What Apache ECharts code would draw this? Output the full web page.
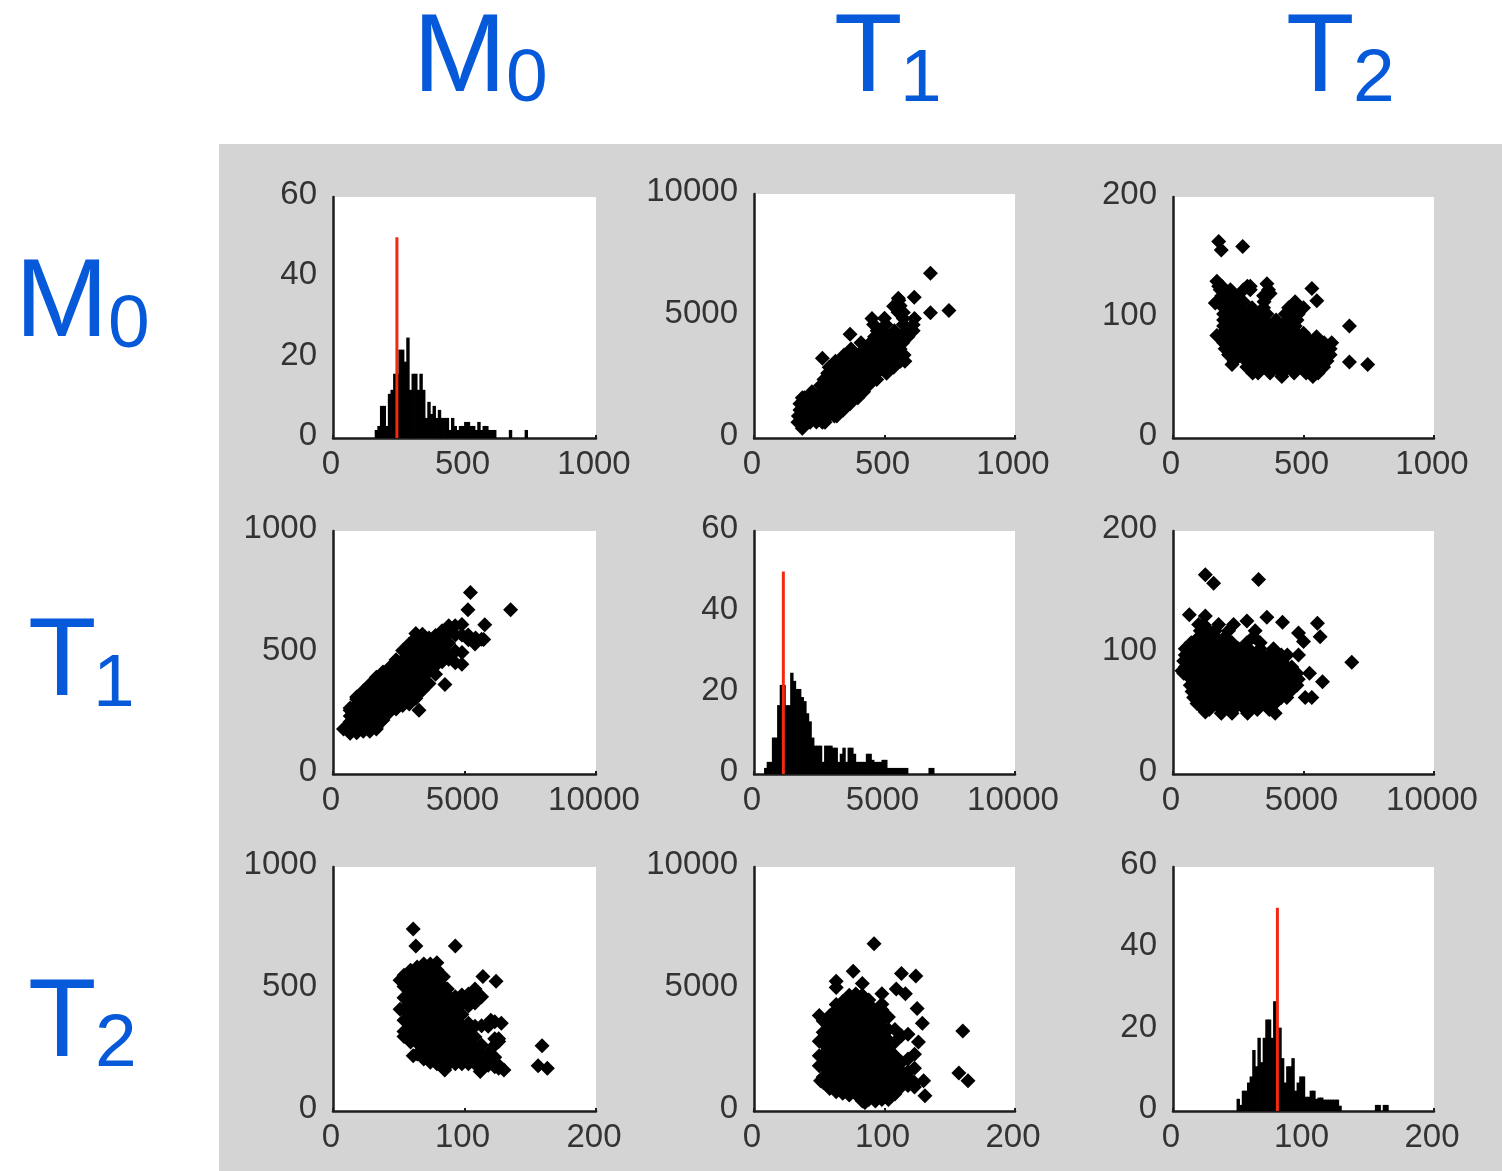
<!DOCTYPE html>
<html><head><meta charset="utf-8">
<style>html,body{margin:0;padding:0;background:#fff}#c{width:1502px;height:1171px}</style>
<script src="https://cdn.jsdelivr.net/npm/echarts@6/dist/echarts.min.js"></script>
</head><body><div id="c"></div>
<script>
// Histograms: [bin centre, count]
const m0Hist=[[165,2],[175,3],[185,8],[195,8],[205,3],[215,11],[225,12],[235,16],[245,16],[255,22],[265,22],[275,19],[285,25],[295,12],[305,16],[315,16],[325,12],[335,16],[345,12],[355,5],[365,9],[375,6],[385,8],[395,5],[405,7],[415,5],[425,5],[435,5],[445,2],[455,5],[465,3],[475,2],[485,3],[495,3],[505,4],[515,4],[525,3],[535,3],[545,2],[555,4],[565,2],[575,3],[585,3],[595,2],[605,2],[615,2],[675,2],[735,2]];
const t1Hist=[[450,1.5],[550,3],[650,3],[750,9],[850,9],[950,17],[1050,22],[1150,22],[1250,17],[1350,17],[1450,25],[1550,23],[1650,21],[1750,21],[1850,19],[1950,18],[2050,15],[2150,13],[2250,9],[2350,7],[2450,7],[2550,7],[2650,3],[2750,7],[2850,7],[2950,7],[3050,6.5],[3150,6.5],[3250,3],[3350,5],[3450,6.5],[3550,3],[3650,6.5],[3750,6.5],[3850,5],[3950,3],[4050,3],[4150,3],[4250,3],[4350,5],[4450,5],[4550,3.5],[4650,3],[4750,3],[4850,3],[4950,3.5],[5050,3.5],[5150,1.5],[5250,1.5],[5350,1.5],[5450,1.5],[5550,1.5],[5650,1.5],[5750,1.5],[5850,1.5],[6750,1.5],[6850,1.5]];
const t2Hist=[[50,3],[52,1.5],[54,5],[56,5],[58,7],[60,8.5],[62,15],[64,11],[66,18],[68,12],[70,18],[72,22.5],[74,22.5],[76,18],[78,27],[80,20],[82,20.5],[84,13],[86,7],[88,11],[90,11],[92,13],[94,5],[96,7],[98,8.5],[100,8.5],[102,3.5],[104,3.5],[106,5],[108,5],[110,3],[112,3.3],[114,3.3],[116,2.8],[118,2.8],[120,2.8],[122,2.8],[124,2.8],[126,2.8],[128,1.3],[156,1.5],[158,1.5],[162,1.5],[164,1.5]];
const m0Marker=243, t1Marker=1124, t2Marker=80, markerTop=50;

// Paired measurements
const m0t1=[[185,400],[168,650],[193,645],[215,650],[239,655],[262,650],[272,650],[170,900],[216,895],[262,905],[285,900],[308,900],[317,900],[176,1150],[193,1155],[215,1150],[239,1145],[285,1150],[331,1155],[342,1150],[176,1400],[216,1405],[262,1395],[308,1400],[354,1405],[368,1400],[185,1650],[193,1650],[239,1655],[285,1645],[331,1650],[377,1655],[398,1650],[222,1900],[262,1905],[308,1895],[354,1900],[400,1905],[420,1900],[255,2150],[285,2145],[331,2155],[377,2150],[423,2145],[438,2150],[268,2400],[308,2405],[354,2395],[400,2400],[446,2405],[470,2400],[282,2650],[331,2645],[377,2655],[423,2650],[469,2645],[508,2650],[288,2900],[308,2905],[354,2895],[400,2900],[446,2905],[492,2895],[535,2900],[262,3270],[312,3150],[331,3155],[377,3145],[423,3150],[469,3155],[515,3145],[561,3150],[578,3150],[345,3400],[354,3405],[400,3395],[446,3400],[492,3405],[538,3395],[575,3400],[372,3650],[423,3655],[469,3645],[515,3650],[560,3650],[410,3900],[446,3905],[492,3895],[538,3900],[570,3900],[368,4256],[462,4150],[515,4155],[561,4145],[590,4150],[472,4400],[492,4405],[538,4395],[584,4400],[610,4400],[458,4650],[505,4655],[572,4650],[610,4645],[452,4900],[500,4905],[572,4900],[615,4900],[552,5150],[572,5140],[535,5400],[560,5420],[555,5650],[553,5730],[614,5770],[676,5130],[747,5225],[676,6753]];
const m0t2=[[175,163],[185,156],[267,159],[168,130],[175,126],[187,126],[285,126],[296,126],[360,128],[181,123],[220,123],[270,123],[296,123],[366,123],[532,124],[187,118],[211,118],[238,118],[347,118],[372,120],[162,112],[175,113],[194,113],[234,113],[270,113],[349,113],[468,113],[551,114],[194,108],[211,108],[257,108],[303,108],[347,108],[443,108],[487,108],[500,108],[194,103],[234,103],[280,103],[326,103],[360,103],[430,103],[464,103],[480,103],[194,98],[211,98],[257,98],[303,98],[349,98],[395,98],[441,98],[475,98],[194,93],[234,93],[280,93],[326,93],[372,93],[420,93],[445,93],[468,93],[676,93],[194,88],[211,88],[257,88],[303,88],[349,88],[395,88],[420,88],[445,88],[470,88],[500,87],[168,85],[188,84],[234,84],[280,84],[326,84],[372,84],[418,84],[464,84],[510,84],[550,84],[194,79],[211,79],[257,79],[303,79],[349,79],[395,79],[441,79],[487,79],[533,79],[579,79],[608,79],[200,74],[234,74],[280,74],[326,74],[372,74],[418,74],[464,74],[510,74],[556,74],[602,74],[213,69],[257,69],[303,69],[349,69],[395,69],[441,69],[487,69],[533,69],[579,69],[602,69],[234,64],[280,64],[326,64],[372,64],[418,64],[464,64],[510,64],[556,64],[590,64],[676,63],[746,61],[226,61],[283,59],[303,59],[349,59],[395,59],[441,59],[487,59],[533,59],[577,59],[305,54],[326,54],[372,54],[418,54],[464,54],[510,54],[556,54],[417,51],[536,51]];
const t1t2=[[1237,164],[1556,157],[3278,160],[625,131],[1237,130],[3597,129],[4196,125],[2832,126],[5535,124],[5638,113],[4809,116],[5000,109],[4809,98],[6850,92],[5230,83],[5727,76],[5319,63],[5064,63],[982,123],[1173,123],[1747,123],[2321,123],[1046,118],[1390,118],[1620,118],[2130,118],[3150,118],[1000,113],[1160,113],[1620,113],[2000,113],[3087,113],[700,108],[1160,108],[1390,108],[1620,108],[1850,108],[2080,108],[2260,108],[2830,108],[3340,108],[470,103],[930,103],[1390,103],[1850,103],[2310,103],[2510,103],[2900,103],[3340,103],[3850,103],[470,98],[700,98],[930,98],[1160,98],[1390,98],[1620,98],[1850,98],[2080,98],[2310,98],[2540,98],[2770,98],[3020,98],[3230,98],[3460,98],[3690,98],[3920,98],[4150,98],[4380,98],[410,93],[930,93],[1390,93],[1850,93],[2310,93],[2770,93],[3210,93],[3690,93],[4110,93],[470,88],[700,88],[1160,88],[1620,88],[2080,88],[2540,88],[3000,88],[3460,88],[3920,88],[4380,88],[4550,88],[344,85],[410,83],[470,83],[930,83],[1390,83],[1850,83],[2310,83],[2770,83],[3230,83],[3690,83],[4150,83],[4610,83],[4745,83],[700,78],[1160,78],[1620,78],[2080,78],[2540,78],[3000,78],[3460,78],[3920,78],[4380,78],[4800,78],[660,73],[930,73],[1390,73],[1850,73],[2310,73],[2770,73],[3230,73],[3690,73],[4150,73],[4610,73],[4745,73],[730,68],[1160,68],[1620,68],[2080,68],[2540,68],[3000,68],[3460,68],[3920,68],[4380,68],[4490,68],[790,63],[930,63],[1390,63],[1850,63],[2310,63],[2770,63],[3230,63],[3690,63],[4150,63],[4360,63],[920,58],[1160,58],[1620,58],[2080,58],[2540,58],[3000,58],[3460,58],[3900,58],[1170,53],[1390,53],[1850,53],[2310,53],[2770,53],[3230,53],[3690,53],[1237,51],[1850,50],[2260,50],[2857,50],[3916,50]];

const varMax=[1000,10000,200], varStep=[500,5000,100];
const histMax=60, histStep=20;
const titleText=[['M','0'],['T','1'],['T','2']];

const colLeft=[333,754,1173], colW=[263,261,261];
const rowBottom=[438,774,1111];
const rowTop=[[197,194,197],[531,531,531],[867,867,867]];
const flip=a=>a.map(p=>[p[1],p[0]]);
const cells=[
 [m0Hist,m0t1,m0t2],
 [flip(m0t1),t1Hist,t1t2],
 [flip(m0t2),flip(t1t2),t2Hist]];
const markers=[m0Marker,t1Marker,t2Marker];

const grids=[],xAxes=[],yAxes=[],series=[];
const lab={fontFamily:'"Liberation Sans",Arial,sans-serif',fontSize:33,color:'#333',formatter:v=>String(v)};
const line={show:true,onZero:false,lineStyle:{color:'#1c1c1c',width:2.5}};
for(let r=0;r<3;r++)for(let c=0;c<3;c++){
  const i=grids.length, isHist=r===c;
  const top=rowTop[r][c];
  grids.push({left:colLeft[c],top,width:colW[c],height:rowBottom[r]-top,show:true,backgroundColor:'#fff',borderWidth:0});
  xAxes.push({type:'value',gridIndex:i,min:0,max:varMax[r],interval:varStep[r],splitLine:{show:false},
    axisLine:line,axisTick:{show:true,inside:true,length:3,lineStyle:{color:'#1c1c1c',width:2}},
    axisLabel:{...lab,margin:10,padding:[0,4,0,0],showMinLabel:true,showMaxLabel:true,hideOverlap:false}});
  const yMax=isHist?histMax:varMax[c], yStep=isHist?histStep:varStep[c];
  yAxes.push({type:'value',gridIndex:i,min:0,max:yMax,interval:yStep,splitLine:{show:false},
    axisLine:line,axisTick:{show:false},
    axisLabel:{...lab,margin:16,verticalAlign:'bottom',lineHeight:4,showMinLabel:true,showMaxLabel:true,hideOverlap:false}});
  if(isHist){
    series.push({type:'bar',xAxisIndex:i,yAxisIndex:i,data:cells[r][c],barWidth:3.4,
      itemStyle:{color:'#000',borderWidth:0,opacity:1},silent:true,animation:false,z:2});
    series.push({type:'line',xAxisIndex:i,yAxisIndex:i,data:[[markers[r],0],[markers[r],markerTop]],symbol:'none',
      lineStyle:{color:'#f22a12',width:3},silent:true,animation:false,z:5});
  }else{
    series.push({type:'scatter',xAxisIndex:i,yAxisIndex:i,data:cells[r][c],symbol:'diamond',symbolSize:15,
      itemStyle:{color:'#000',opacity:1},silent:true,animation:false,z:2});
  }
}
const blue='#0659d9';
function letter(text,x,base,size){
  return {type:'text',z:10,x,y:base+6-0.3465*size,style:{text,fill:blue,font:size+'px "Liberation Sans",Arial,sans-serif',textAlign:'left',textVerticalAlign:'middle'}};
}
const graphics=[
 {type:'rect',z:-1,shape:{x:219,y:144,width:1283,height:1027},style:{fill:'#d4d4d4'}},
 letter(titleText[0][0],413,93,112),letter(titleText[0][1],506,100,75),
 letter(titleText[1][0],834,93,112),letter(titleText[1][1],900,100,75),
 letter(titleText[2][0],1286,93,112),letter(titleText[2][1],1353,100,75),
 letter(titleText[0][0],15,338,112),letter(titleText[0][1],108,346,75),
 letter(titleText[1][0],28,697,112),letter(titleText[1][1],93,705,75),
 letter(titleText[2][0],28,1058,112),letter(titleText[2][1],95,1065,75)
];
const chart=echarts.init(document.getElementById('c'),null,{renderer:'canvas',width:1502,height:1171});
chart.setOption({animation:false,backgroundColor:'#fff',grid:grids,xAxis:xAxes,yAxis:yAxes,series,graphic:graphics});
</script></body></html>
